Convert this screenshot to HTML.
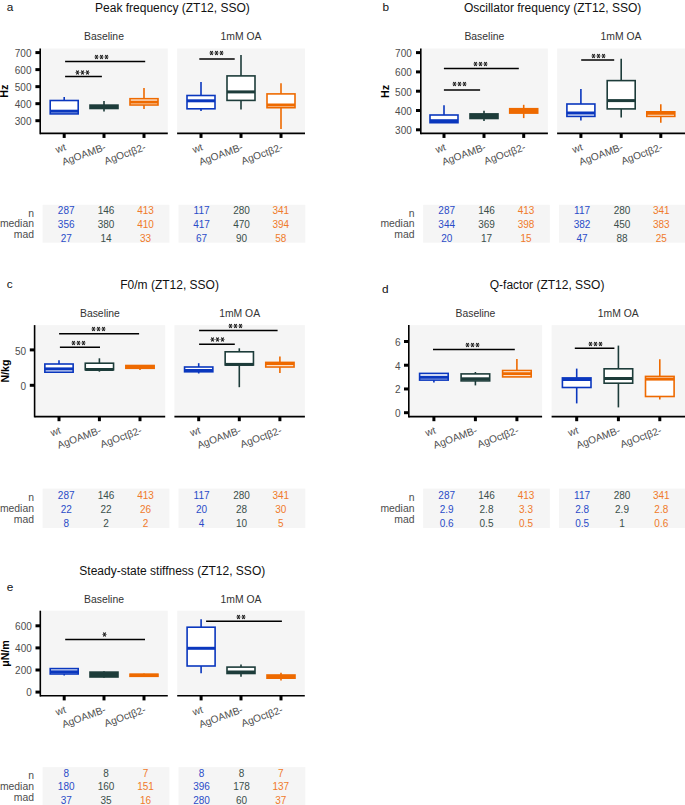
<!DOCTYPE html>
<html><head><meta charset="utf-8"><style>
html,body{margin:0;padding:0;background:#fff;}
body{width:685px;height:805px;overflow:hidden;font-family:"Liberation Sans",sans-serif;}
svg{display:block;}
</style></head><body>
<svg width="685" height="805" viewBox="0 0 685 805">
<rect width="685" height="805" fill="#fff"/>
<text x="6.8" y="10.6" font-size="11.8" fill="#111" font-family="Liberation Sans, sans-serif">a</text>
<text x="172.4" y="12.0" font-size="12" text-anchor="middle" fill="#111" font-family="Liberation Sans, sans-serif">Peak frequency (ZT12, SSO)</text>
<rect x="40.2" y="48.5" width="127.60000000000001" height="84.85" fill="#f5f5f5"/>
<text x="104.00" y="40.0" font-size="10.4" text-anchor="middle" fill="#333" font-family="Liberation Sans, sans-serif">Baseline</text>
<line x1="40.2" y1="133.35" x2="167.8" y2="133.35" stroke="#000" stroke-width="1.55"/>
<line x1="64.2" y1="133.35" x2="64.2" y2="137.95" stroke="#000" stroke-width="3.0"/>
<text x="66.70" y="149.85" font-size="10.2" text-anchor="end" fill="#4d4d4d" transform="rotate(-20 66.70 149.85)" font-family="Liberation Sans, sans-serif">wt</text>
<line x1="104" y1="133.35" x2="104" y2="137.95" stroke="#000" stroke-width="3.0"/>
<text x="106.50" y="149.85" font-size="10.2" text-anchor="end" fill="#4d4d4d" transform="rotate(-20 106.50 149.85)" font-family="Liberation Sans, sans-serif">AgOAMB-</text>
<line x1="144" y1="133.35" x2="144" y2="137.95" stroke="#000" stroke-width="3.0"/>
<text x="146.50" y="149.85" font-size="10.2" text-anchor="end" fill="#4d4d4d" transform="rotate(-20 146.50 149.85)" font-family="Liberation Sans, sans-serif">AgOctβ2-</text>
<line x1="64.2" y1="97" x2="64.2" y2="100.5" stroke="#0a37be" stroke-width="1.6"/>
<rect x="50.2" y="100.5" width="28.0" height="13.40" fill="#fff" stroke="#0a37be" stroke-width="1.6"/>
<line x1="50.2" y1="111.2" x2="78.2" y2="111.2" stroke="#0a37be" stroke-width="3.0"/>
<line x1="104" y1="101" x2="104" y2="105.1" stroke="#1d3c3a" stroke-width="1.6"/>
<line x1="104" y1="108.5" x2="104" y2="111.6" stroke="#1d3c3a" stroke-width="1.6"/>
<rect x="90.0" y="105.1" width="28.0" height="3.40" fill="#1d3c3a" stroke="#1d3c3a" stroke-width="1.6"/>
<line x1="90.0" y1="107" x2="118.0" y2="107" stroke="#1d3c3a" stroke-width="3.0"/>
<line x1="144" y1="88.1" x2="144" y2="98.7" stroke="#ee6a00" stroke-width="1.6"/>
<line x1="144" y1="105" x2="144" y2="109" stroke="#ee6a00" stroke-width="1.6"/>
<rect x="130.0" y="98.7" width="28.0" height="6.30" fill="#fff" stroke="#ee6a00" stroke-width="1.6"/>
<line x1="130.0" y1="102.1" x2="158.0" y2="102.1" stroke="#ee6a00" stroke-width="3.0"/>
<line x1="65.1" y1="61.4" x2="145.2" y2="61.4" stroke="#000" stroke-width="1.5"/>
<path d="M94.20,57.00L98.80,57.00M99.20,57.00L103.80,57.00M104.20,57.00L108.80,57.00" stroke="#666" stroke-width="0.8" fill="none"/>
<path d="M95.35,55.01L97.65,58.99M97.65,55.01L95.35,58.99M100.35,55.01L102.65,58.99M102.65,55.01L100.35,58.99M105.35,55.01L107.65,58.99M107.65,55.01L105.35,58.99" stroke="#222" stroke-width="1.2" fill="none"/>
<line x1="65.1" y1="76.6" x2="101.9" y2="76.6" stroke="#000" stroke-width="1.5"/>
<path d="M75.20,72.50L79.80,72.50M80.20,72.50L84.80,72.50M85.20,72.50L89.80,72.50" stroke="#666" stroke-width="0.8" fill="none"/>
<path d="M76.35,70.51L78.65,74.49M78.65,70.51L76.35,74.49M81.35,70.51L83.65,74.49M83.65,70.51L81.35,74.49M86.35,70.51L88.65,74.49M88.65,70.51L86.35,74.49" stroke="#222" stroke-width="1.2" fill="none"/>
<rect x="177.1" y="48.5" width="127.9" height="84.85" fill="#f5f5f5"/>
<text x="241.05" y="40.0" font-size="10.4" text-anchor="middle" fill="#333" font-family="Liberation Sans, sans-serif">1mM OA</text>
<line x1="177.1" y1="133.35" x2="305" y2="133.35" stroke="#000" stroke-width="1.55"/>
<line x1="201" y1="133.35" x2="201" y2="137.95" stroke="#000" stroke-width="3.0"/>
<text x="203.50" y="149.85" font-size="10.2" text-anchor="end" fill="#4d4d4d" transform="rotate(-20 203.50 149.85)" font-family="Liberation Sans, sans-serif">wt</text>
<line x1="241" y1="133.35" x2="241" y2="137.95" stroke="#000" stroke-width="3.0"/>
<text x="243.50" y="149.85" font-size="10.2" text-anchor="end" fill="#4d4d4d" transform="rotate(-20 243.50 149.85)" font-family="Liberation Sans, sans-serif">AgOAMB-</text>
<line x1="281" y1="133.35" x2="281" y2="137.95" stroke="#000" stroke-width="3.0"/>
<text x="283.50" y="149.85" font-size="10.2" text-anchor="end" fill="#4d4d4d" transform="rotate(-20 283.50 149.85)" font-family="Liberation Sans, sans-serif">AgOctβ2-</text>
<line x1="201" y1="82.1" x2="201" y2="95.5" stroke="#0a37be" stroke-width="1.6"/>
<line x1="201" y1="108.8" x2="201" y2="111.1" stroke="#0a37be" stroke-width="1.6"/>
<rect x="187.0" y="95.5" width="28.0" height="13.30" fill="#fff" stroke="#0a37be" stroke-width="1.6"/>
<line x1="187.0" y1="100.8" x2="215.0" y2="100.8" stroke="#0a37be" stroke-width="3.0"/>
<line x1="241" y1="55" x2="241" y2="75.9" stroke="#1d3c3a" stroke-width="1.6"/>
<line x1="241" y1="100.4" x2="241" y2="109.6" stroke="#1d3c3a" stroke-width="1.6"/>
<rect x="227.0" y="75.9" width="28.0" height="24.50" fill="#fff" stroke="#1d3c3a" stroke-width="1.6"/>
<line x1="227.0" y1="91.9" x2="255.0" y2="91.9" stroke="#1d3c3a" stroke-width="3.0"/>
<line x1="281" y1="83.3" x2="281" y2="93.9" stroke="#ee6a00" stroke-width="1.6"/>
<line x1="281" y1="107.7" x2="281" y2="129" stroke="#ee6a00" stroke-width="1.6"/>
<rect x="267.0" y="93.9" width="28.0" height="13.80" fill="#fff" stroke="#ee6a00" stroke-width="1.6"/>
<line x1="267.0" y1="105.0" x2="295.0" y2="105.0" stroke="#ee6a00" stroke-width="3.0"/>
<line x1="199.3" y1="58.9" x2="234.7" y2="58.9" stroke="#000" stroke-width="1.5"/>
<path d="M209.20,53.00L213.80,53.00M214.20,53.00L218.80,53.00M219.20,53.00L223.80,53.00" stroke="#666" stroke-width="0.8" fill="none"/>
<path d="M210.35,51.01L212.65,54.99M212.65,51.01L210.35,54.99M215.35,51.01L217.65,54.99M217.65,51.01L215.35,54.99M220.35,51.01L222.65,54.99M222.65,51.01L220.35,54.99" stroke="#222" stroke-width="1.2" fill="none"/>
<line x1="40.2" y1="48.5" x2="40.2" y2="134.13" stroke="#000" stroke-width="1.6"/>
<line x1="35.400000000000006" y1="52.580000000000005" x2="40.2" y2="52.580000000000005" stroke="#000" stroke-width="3.0"/>
<text x="31.5" y="56.88" font-size="10" text-anchor="end" fill="#4d4d4d" font-family="Liberation Sans, sans-serif">700</text>
<line x1="35.400000000000006" y1="69.61" x2="40.2" y2="69.61" stroke="#000" stroke-width="3.0"/>
<text x="31.5" y="73.91" font-size="10" text-anchor="end" fill="#4d4d4d" font-family="Liberation Sans, sans-serif">600</text>
<line x1="35.400000000000006" y1="86.64" x2="40.2" y2="86.64" stroke="#000" stroke-width="3.0"/>
<text x="31.5" y="90.94" font-size="10" text-anchor="end" fill="#4d4d4d" font-family="Liberation Sans, sans-serif">500</text>
<line x1="35.400000000000006" y1="103.67" x2="40.2" y2="103.67" stroke="#000" stroke-width="3.0"/>
<text x="31.5" y="107.97" font-size="10" text-anchor="end" fill="#4d4d4d" font-family="Liberation Sans, sans-serif">400</text>
<line x1="35.400000000000006" y1="120.7" x2="40.2" y2="120.7" stroke="#000" stroke-width="3.0"/>
<text x="31.5" y="125.00" font-size="10" text-anchor="end" fill="#4d4d4d" font-family="Liberation Sans, sans-serif">300</text>
<text x="8.1" y="91.2" font-size="10.7" font-weight="bold" text-anchor="middle" fill="#000" transform="rotate(-90 8.1 91.2)" font-family="Liberation Sans, sans-serif">Hz</text>
<rect x="42.6" y="204.8" width="126.80000000000001" height="37.89999999999998" fill="#f5f5f5"/>
<text x="66.2" y="213.90" font-size="10" text-anchor="middle" fill="#2a4cc8" font-family="Liberation Sans, sans-serif">287</text>
<text x="106" y="213.90" font-size="10" text-anchor="middle" fill="#3a4f4b" font-family="Liberation Sans, sans-serif">146</text>
<text x="145.5" y="213.90" font-size="10" text-anchor="middle" fill="#f07a2a" font-family="Liberation Sans, sans-serif">413</text>
<text x="66.2" y="227.70" font-size="10" text-anchor="middle" fill="#2a4cc8" font-family="Liberation Sans, sans-serif">356</text>
<text x="106" y="227.70" font-size="10" text-anchor="middle" fill="#3a4f4b" font-family="Liberation Sans, sans-serif">380</text>
<text x="145.5" y="227.70" font-size="10" text-anchor="middle" fill="#f07a2a" font-family="Liberation Sans, sans-serif">410</text>
<text x="66.2" y="241.70" font-size="10" text-anchor="middle" fill="#2a4cc8" font-family="Liberation Sans, sans-serif">27</text>
<text x="106" y="241.70" font-size="10" text-anchor="middle" fill="#3a4f4b" font-family="Liberation Sans, sans-serif">14</text>
<text x="145.5" y="241.70" font-size="10" text-anchor="middle" fill="#f07a2a" font-family="Liberation Sans, sans-serif">33</text>
<rect x="178.5" y="204.8" width="126.80000000000001" height="37.89999999999998" fill="#f5f5f5"/>
<text x="201.6" y="213.90" font-size="10" text-anchor="middle" fill="#2a4cc8" font-family="Liberation Sans, sans-serif">117</text>
<text x="241.5" y="213.90" font-size="10" text-anchor="middle" fill="#3a4f4b" font-family="Liberation Sans, sans-serif">280</text>
<text x="280.8" y="213.90" font-size="10" text-anchor="middle" fill="#f07a2a" font-family="Liberation Sans, sans-serif">341</text>
<text x="201.6" y="227.70" font-size="10" text-anchor="middle" fill="#2a4cc8" font-family="Liberation Sans, sans-serif">417</text>
<text x="241.5" y="227.70" font-size="10" text-anchor="middle" fill="#3a4f4b" font-family="Liberation Sans, sans-serif">470</text>
<text x="280.8" y="227.70" font-size="10" text-anchor="middle" fill="#f07a2a" font-family="Liberation Sans, sans-serif">394</text>
<text x="201.6" y="241.70" font-size="10" text-anchor="middle" fill="#2a4cc8" font-family="Liberation Sans, sans-serif">67</text>
<text x="241.5" y="241.70" font-size="10" text-anchor="middle" fill="#3a4f4b" font-family="Liberation Sans, sans-serif">90</text>
<text x="280.8" y="241.70" font-size="10" text-anchor="middle" fill="#f07a2a" font-family="Liberation Sans, sans-serif">58</text>
<text x="34" y="216.5" font-size="10.4" text-anchor="end" fill="#4d4d4d" font-family="Liberation Sans, sans-serif">n</text>
<text x="34" y="227.4" font-size="10.4" text-anchor="end" fill="#4d4d4d" font-family="Liberation Sans, sans-serif">median</text>
<text x="34" y="238.3" font-size="10.4" text-anchor="end" fill="#4d4d4d" font-family="Liberation Sans, sans-serif">mad</text>
<text x="382.5" y="10.5" font-size="11.8" fill="#111" font-family="Liberation Sans, sans-serif">b</text>
<text x="552.6" y="12.0" font-size="12" text-anchor="middle" fill="#111" font-family="Liberation Sans, sans-serif">Oscillator frequency (ZT12, SSO)</text>
<rect x="420.8" y="48.5" width="127.09999999999997" height="84.85" fill="#f5f5f5"/>
<text x="484.35" y="40.0" font-size="10.4" text-anchor="middle" fill="#333" font-family="Liberation Sans, sans-serif">Baseline</text>
<line x1="420.8" y1="133.35" x2="547.9" y2="133.35" stroke="#000" stroke-width="1.55"/>
<line x1="444" y1="133.35" x2="444" y2="137.95" stroke="#000" stroke-width="3.0"/>
<text x="446.50" y="149.85" font-size="10.2" text-anchor="end" fill="#4d4d4d" transform="rotate(-20 446.50 149.85)" font-family="Liberation Sans, sans-serif">wt</text>
<line x1="484" y1="133.35" x2="484" y2="137.95" stroke="#000" stroke-width="3.0"/>
<text x="486.50" y="149.85" font-size="10.2" text-anchor="end" fill="#4d4d4d" transform="rotate(-20 486.50 149.85)" font-family="Liberation Sans, sans-serif">AgOAMB-</text>
<line x1="523.7" y1="133.35" x2="523.7" y2="137.95" stroke="#000" stroke-width="3.0"/>
<text x="526.20" y="149.85" font-size="10.2" text-anchor="end" fill="#4d4d4d" transform="rotate(-20 526.20 149.85)" font-family="Liberation Sans, sans-serif">AgOctβ2-</text>
<line x1="444" y1="105.2" x2="444" y2="115" stroke="#0a37be" stroke-width="1.6"/>
<rect x="430.0" y="115" width="28.0" height="7.70" fill="#fff" stroke="#0a37be" stroke-width="1.6"/>
<line x1="430.0" y1="120.7" x2="458.0" y2="120.7" stroke="#0a37be" stroke-width="3.0"/>
<line x1="484" y1="110.7" x2="484" y2="113.9" stroke="#1d3c3a" stroke-width="1.6"/>
<line x1="484" y1="118.5" x2="484" y2="121" stroke="#1d3c3a" stroke-width="1.6"/>
<rect x="470.0" y="113.9" width="28.0" height="4.60" fill="#1d3c3a" stroke="#1d3c3a" stroke-width="1.6"/>
<line x1="470.0" y1="116.5" x2="498.0" y2="116.5" stroke="#1d3c3a" stroke-width="3.0"/>
<line x1="523.7" y1="104.8" x2="523.7" y2="108.7" stroke="#ee6a00" stroke-width="1.6"/>
<line x1="523.7" y1="113.1" x2="523.7" y2="118.1" stroke="#ee6a00" stroke-width="1.6"/>
<rect x="509.70000000000005" y="108.7" width="28.0" height="4.40" fill="#ee6a00" stroke="#ee6a00" stroke-width="1.6"/>
<line x1="509.70000000000005" y1="111" x2="537.7" y2="111" stroke="#ee6a00" stroke-width="3.0"/>
<line x1="443.9" y1="68.4" x2="518.8" y2="68.4" stroke="#000" stroke-width="1.5"/>
<path d="M473.20,64.00L477.80,64.00M478.20,64.00L482.80,64.00M483.20,64.00L487.80,64.00" stroke="#666" stroke-width="0.8" fill="none"/>
<path d="M474.35,62.01L476.65,65.99M476.65,62.01L474.35,65.99M479.35,62.01L481.65,65.99M481.65,62.01L479.35,65.99M484.35,62.01L486.65,65.99M486.65,62.01L484.35,65.99" stroke="#222" stroke-width="1.2" fill="none"/>
<line x1="443.9" y1="90.1" x2="480.1" y2="90.1" stroke="#000" stroke-width="1.5"/>
<path d="M452.20,84.00L456.80,84.00M457.20,84.00L461.80,84.00M462.20,84.00L466.80,84.00" stroke="#666" stroke-width="0.8" fill="none"/>
<path d="M453.35,82.01L455.65,85.99M455.65,82.01L453.35,85.99M458.35,82.01L460.65,85.99M460.65,82.01L458.35,85.99M463.35,82.01L465.65,85.99M465.65,82.01L463.35,85.99" stroke="#222" stroke-width="1.2" fill="none"/>
<rect x="557.1" y="48.5" width="127.89999999999998" height="84.85" fill="#f5f5f5"/>
<text x="621.05" y="40.0" font-size="10.4" text-anchor="middle" fill="#333" font-family="Liberation Sans, sans-serif">1mM OA</text>
<line x1="557.1" y1="133.35" x2="685" y2="133.35" stroke="#000" stroke-width="1.55"/>
<line x1="580.9" y1="133.35" x2="580.9" y2="137.95" stroke="#000" stroke-width="3.0"/>
<text x="583.40" y="149.85" font-size="10.2" text-anchor="end" fill="#4d4d4d" transform="rotate(-20 583.40 149.85)" font-family="Liberation Sans, sans-serif">wt</text>
<line x1="621.2" y1="133.35" x2="621.2" y2="137.95" stroke="#000" stroke-width="3.0"/>
<text x="623.70" y="149.85" font-size="10.2" text-anchor="end" fill="#4d4d4d" transform="rotate(-20 623.70 149.85)" font-family="Liberation Sans, sans-serif">AgOAMB-</text>
<line x1="660.8" y1="133.35" x2="660.8" y2="137.95" stroke="#000" stroke-width="3.0"/>
<text x="663.30" y="149.85" font-size="10.2" text-anchor="end" fill="#4d4d4d" transform="rotate(-20 663.30 149.85)" font-family="Liberation Sans, sans-serif">AgOctβ2-</text>
<line x1="580.9" y1="89" x2="580.9" y2="104.0" stroke="#0a37be" stroke-width="1.6"/>
<line x1="580.9" y1="116.4" x2="580.9" y2="120.4" stroke="#0a37be" stroke-width="1.6"/>
<rect x="566.9" y="104.0" width="28.0" height="12.40" fill="#fff" stroke="#0a37be" stroke-width="1.6"/>
<line x1="566.9" y1="113.0" x2="594.9" y2="113.0" stroke="#0a37be" stroke-width="3.0"/>
<line x1="621.2" y1="58.7" x2="621.2" y2="80.6" stroke="#1d3c3a" stroke-width="1.6"/>
<line x1="621.2" y1="108.9" x2="621.2" y2="117.6" stroke="#1d3c3a" stroke-width="1.6"/>
<rect x="607.2" y="80.6" width="28.0" height="28.30" fill="#fff" stroke="#1d3c3a" stroke-width="1.6"/>
<line x1="607.2" y1="100.6" x2="635.2" y2="100.6" stroke="#1d3c3a" stroke-width="3.0"/>
<line x1="660.8" y1="104.2" x2="660.8" y2="111.8" stroke="#ee6a00" stroke-width="1.6"/>
<line x1="660.8" y1="116.4" x2="660.8" y2="122.7" stroke="#ee6a00" stroke-width="1.6"/>
<rect x="646.8" y="111.8" width="28.0" height="4.60" fill="#fff" stroke="#ee6a00" stroke-width="1.6"/>
<line x1="646.8" y1="113.3" x2="674.8" y2="113.3" stroke="#ee6a00" stroke-width="3.0"/>
<line x1="581.2" y1="60.1" x2="614.2" y2="60.1" stroke="#000" stroke-width="1.5"/>
<path d="M591.20,56.00L595.80,56.00M596.20,56.00L600.80,56.00M601.20,56.00L605.80,56.00" stroke="#666" stroke-width="0.8" fill="none"/>
<path d="M592.35,54.01L594.65,57.99M594.65,54.01L592.35,57.99M597.35,54.01L599.65,57.99M599.65,54.01L597.35,57.99M602.35,54.01L604.65,57.99M604.65,54.01L602.35,57.99" stroke="#222" stroke-width="1.2" fill="none"/>
<line x1="420.8" y1="48.5" x2="420.8" y2="134.13" stroke="#000" stroke-width="1.6"/>
<line x1="416.0" y1="52.6" x2="420.8" y2="52.6" stroke="#000" stroke-width="3.0"/>
<text x="411.8" y="56.90" font-size="10" text-anchor="end" fill="#4d4d4d" font-family="Liberation Sans, sans-serif">700</text>
<line x1="416.0" y1="71.9" x2="420.8" y2="71.9" stroke="#000" stroke-width="3.0"/>
<text x="411.8" y="76.20" font-size="10" text-anchor="end" fill="#4d4d4d" font-family="Liberation Sans, sans-serif">600</text>
<line x1="416.0" y1="91.2" x2="420.8" y2="91.2" stroke="#000" stroke-width="3.0"/>
<text x="411.8" y="95.50" font-size="10" text-anchor="end" fill="#4d4d4d" font-family="Liberation Sans, sans-serif">500</text>
<line x1="416.0" y1="110.5" x2="420.8" y2="110.5" stroke="#000" stroke-width="3.0"/>
<text x="411.8" y="114.80" font-size="10" text-anchor="end" fill="#4d4d4d" font-family="Liberation Sans, sans-serif">400</text>
<line x1="416.0" y1="129.79999999999998" x2="420.8" y2="129.79999999999998" stroke="#000" stroke-width="3.0"/>
<text x="411.8" y="134.10" font-size="10" text-anchor="end" fill="#4d4d4d" font-family="Liberation Sans, sans-serif">300</text>
<text x="388.6" y="91.4" font-size="10.7" font-weight="bold" text-anchor="middle" fill="#000" transform="rotate(-90 388.6 91.4)" font-family="Liberation Sans, sans-serif">Hz</text>
<rect x="423.1" y="204.8" width="126.79999999999995" height="37.89999999999998" fill="#f5f5f5"/>
<text x="446.7" y="213.90" font-size="10" text-anchor="middle" fill="#2a4cc8" font-family="Liberation Sans, sans-serif">287</text>
<text x="486.5" y="213.90" font-size="10" text-anchor="middle" fill="#3a4f4b" font-family="Liberation Sans, sans-serif">146</text>
<text x="526.0" y="213.90" font-size="10" text-anchor="middle" fill="#f07a2a" font-family="Liberation Sans, sans-serif">413</text>
<text x="446.7" y="227.70" font-size="10" text-anchor="middle" fill="#2a4cc8" font-family="Liberation Sans, sans-serif">344</text>
<text x="486.5" y="227.70" font-size="10" text-anchor="middle" fill="#3a4f4b" font-family="Liberation Sans, sans-serif">369</text>
<text x="526.0" y="227.70" font-size="10" text-anchor="middle" fill="#f07a2a" font-family="Liberation Sans, sans-serif">398</text>
<text x="446.7" y="241.70" font-size="10" text-anchor="middle" fill="#2a4cc8" font-family="Liberation Sans, sans-serif">20</text>
<text x="486.5" y="241.70" font-size="10" text-anchor="middle" fill="#3a4f4b" font-family="Liberation Sans, sans-serif">17</text>
<text x="526.0" y="241.70" font-size="10" text-anchor="middle" fill="#f07a2a" font-family="Liberation Sans, sans-serif">15</text>
<rect x="559.0" y="204.8" width="126.79999999999995" height="37.89999999999998" fill="#f5f5f5"/>
<text x="582.1" y="213.90" font-size="10" text-anchor="middle" fill="#2a4cc8" font-family="Liberation Sans, sans-serif">117</text>
<text x="622.0" y="213.90" font-size="10" text-anchor="middle" fill="#3a4f4b" font-family="Liberation Sans, sans-serif">280</text>
<text x="661.3" y="213.90" font-size="10" text-anchor="middle" fill="#f07a2a" font-family="Liberation Sans, sans-serif">341</text>
<text x="582.1" y="227.70" font-size="10" text-anchor="middle" fill="#2a4cc8" font-family="Liberation Sans, sans-serif">382</text>
<text x="622.0" y="227.70" font-size="10" text-anchor="middle" fill="#3a4f4b" font-family="Liberation Sans, sans-serif">450</text>
<text x="661.3" y="227.70" font-size="10" text-anchor="middle" fill="#f07a2a" font-family="Liberation Sans, sans-serif">383</text>
<text x="582.1" y="241.70" font-size="10" text-anchor="middle" fill="#2a4cc8" font-family="Liberation Sans, sans-serif">47</text>
<text x="622.0" y="241.70" font-size="10" text-anchor="middle" fill="#3a4f4b" font-family="Liberation Sans, sans-serif">88</text>
<text x="661.3" y="241.70" font-size="10" text-anchor="middle" fill="#f07a2a" font-family="Liberation Sans, sans-serif">25</text>
<text x="414.5" y="216.5" font-size="10.4" text-anchor="end" fill="#4d4d4d" font-family="Liberation Sans, sans-serif">n</text>
<text x="414.5" y="227.4" font-size="10.4" text-anchor="end" fill="#4d4d4d" font-family="Liberation Sans, sans-serif">median</text>
<text x="414.5" y="238.3" font-size="10.4" text-anchor="end" fill="#4d4d4d" font-family="Liberation Sans, sans-serif">mad</text>
<text x="6.8" y="288.3" font-size="11.8" fill="#111" font-family="Liberation Sans, sans-serif">c</text>
<text x="169.6" y="288.6" font-size="12" text-anchor="middle" fill="#111" font-family="Liberation Sans, sans-serif">F0/m (ZT12, SSO)</text>
<rect x="34.6" y="325.1" width="130.6" height="91.5" fill="#f5f5f5"/>
<text x="99.90" y="316.8" font-size="10.4" text-anchor="middle" fill="#333" font-family="Liberation Sans, sans-serif">Baseline</text>
<line x1="34.6" y1="416.6" x2="165.2" y2="416.6" stroke="#000" stroke-width="1.55"/>
<line x1="59" y1="416.6" x2="59" y2="421.20000000000005" stroke="#000" stroke-width="3.0"/>
<text x="61.50" y="433.10" font-size="10.2" text-anchor="end" fill="#4d4d4d" transform="rotate(-20 61.50 433.10)" font-family="Liberation Sans, sans-serif">wt</text>
<line x1="99.4" y1="416.6" x2="99.4" y2="421.20000000000005" stroke="#000" stroke-width="3.0"/>
<text x="101.90" y="433.10" font-size="10.2" text-anchor="end" fill="#4d4d4d" transform="rotate(-20 101.90 433.10)" font-family="Liberation Sans, sans-serif">AgOAMB-</text>
<line x1="140" y1="416.6" x2="140" y2="421.20000000000005" stroke="#000" stroke-width="3.0"/>
<text x="142.50" y="433.10" font-size="10.2" text-anchor="end" fill="#4d4d4d" transform="rotate(-20 142.50 433.10)" font-family="Liberation Sans, sans-serif">AgOctβ2-</text>
<line x1="59" y1="360.2" x2="59" y2="364" stroke="#0a37be" stroke-width="1.6"/>
<rect x="44.85" y="364" width="28.3" height="8.20" fill="#fff" stroke="#0a37be" stroke-width="1.6"/>
<line x1="44.85" y1="368.9" x2="73.15" y2="368.9" stroke="#0a37be" stroke-width="3.0"/>
<line x1="99.4" y1="358.3" x2="99.4" y2="363.2" stroke="#1d3c3a" stroke-width="1.6"/>
<line x1="99.4" y1="369.8" x2="99.4" y2="371.7" stroke="#1d3c3a" stroke-width="1.6"/>
<rect x="85.25" y="363.2" width="28.3" height="6.60" fill="#fff" stroke="#1d3c3a" stroke-width="1.6"/>
<line x1="85.25" y1="369.5" x2="113.55000000000001" y2="369.5" stroke="#1d3c3a" stroke-width="3.0"/>
<line x1="140" y1="365" x2="140" y2="365.5" stroke="#ee6a00" stroke-width="1.6"/>
<line x1="140" y1="368.3" x2="140" y2="370" stroke="#ee6a00" stroke-width="1.6"/>
<rect x="125.85" y="365.5" width="28.3" height="2.80" fill="#ee6a00" stroke="#ee6a00" stroke-width="1.6"/>
<line x1="125.85" y1="367.3" x2="154.15" y2="367.3" stroke="#ee6a00" stroke-width="3.0"/>
<line x1="59.1" y1="333.7" x2="139.1" y2="333.7" stroke="#000" stroke-width="1.5"/>
<path d="M91.20,329.00L95.80,329.00M96.20,329.00L100.80,329.00M101.20,329.00L105.80,329.00" stroke="#666" stroke-width="0.8" fill="none"/>
<path d="M92.35,327.01L94.65,330.99M94.65,327.01L92.35,330.99M97.35,327.01L99.65,330.99M99.65,327.01L97.35,330.99M102.35,327.01L104.65,330.99M104.65,327.01L102.35,330.99" stroke="#222" stroke-width="1.2" fill="none"/>
<line x1="59.9" y1="347.2" x2="100" y2="347.2" stroke="#000" stroke-width="1.5"/>
<path d="M71.20,343.00L75.80,343.00M76.20,343.00L80.80,343.00M81.20,343.00L85.80,343.00" stroke="#666" stroke-width="0.8" fill="none"/>
<path d="M72.35,341.01L74.65,344.99M74.65,341.01L72.35,344.99M77.35,341.01L79.65,344.99M79.65,341.01L77.35,344.99M82.35,341.01L84.65,344.99M84.65,341.01L82.35,344.99" stroke="#222" stroke-width="1.2" fill="none"/>
<rect x="174.4" y="325.1" width="130.49999999999997" height="91.5" fill="#f5f5f5"/>
<text x="239.65" y="316.8" font-size="10.4" text-anchor="middle" fill="#333" font-family="Liberation Sans, sans-serif">1mM OA</text>
<line x1="174.4" y1="416.6" x2="304.9" y2="416.6" stroke="#000" stroke-width="1.55"/>
<line x1="198.7" y1="416.6" x2="198.7" y2="421.20000000000005" stroke="#000" stroke-width="3.0"/>
<text x="201.20" y="433.10" font-size="10.2" text-anchor="end" fill="#4d4d4d" transform="rotate(-20 201.20 433.10)" font-family="Liberation Sans, sans-serif">wt</text>
<line x1="239.3" y1="416.6" x2="239.3" y2="421.20000000000005" stroke="#000" stroke-width="3.0"/>
<text x="241.80" y="433.10" font-size="10.2" text-anchor="end" fill="#4d4d4d" transform="rotate(-20 241.80 433.10)" font-family="Liberation Sans, sans-serif">AgOAMB-</text>
<line x1="279.9" y1="416.6" x2="279.9" y2="421.20000000000005" stroke="#000" stroke-width="3.0"/>
<text x="282.40" y="433.10" font-size="10.2" text-anchor="end" fill="#4d4d4d" transform="rotate(-20 282.40 433.10)" font-family="Liberation Sans, sans-serif">AgOctβ2-</text>
<line x1="198.7" y1="363.2" x2="198.7" y2="367" stroke="#0a37be" stroke-width="1.6"/>
<line x1="198.7" y1="371.8" x2="198.7" y2="373.5" stroke="#0a37be" stroke-width="1.6"/>
<rect x="184.54999999999998" y="367" width="28.3" height="4.80" fill="#fff" stroke="#0a37be" stroke-width="1.6"/>
<line x1="184.54999999999998" y1="370.5" x2="212.85" y2="370.5" stroke="#0a37be" stroke-width="3.0"/>
<line x1="239.3" y1="348.3" x2="239.3" y2="351.8" stroke="#1d3c3a" stroke-width="1.6"/>
<line x1="239.3" y1="365" x2="239.3" y2="387.2" stroke="#1d3c3a" stroke-width="1.6"/>
<rect x="225.15" y="351.8" width="28.3" height="13.20" fill="#fff" stroke="#1d3c3a" stroke-width="1.6"/>
<line x1="225.15" y1="364.4" x2="253.45000000000002" y2="364.4" stroke="#1d3c3a" stroke-width="3.0"/>
<line x1="279.9" y1="356.6" x2="279.9" y2="362.4" stroke="#ee6a00" stroke-width="1.6"/>
<line x1="279.9" y1="367" x2="279.9" y2="373" stroke="#ee6a00" stroke-width="1.6"/>
<rect x="265.75" y="362.4" width="28.3" height="4.60" fill="#fff" stroke="#ee6a00" stroke-width="1.6"/>
<line x1="265.75" y1="363.7" x2="294.04999999999995" y2="363.7" stroke="#ee6a00" stroke-width="3.0"/>
<line x1="199.1" y1="330.4" x2="277.6" y2="330.4" stroke="#000" stroke-width="1.5"/>
<path d="M228.20,326.00L232.80,326.00M233.20,326.00L237.80,326.00M238.20,326.00L242.80,326.00" stroke="#666" stroke-width="0.8" fill="none"/>
<path d="M229.35,324.01L231.65,327.99M231.65,324.01L229.35,327.99M234.35,324.01L236.65,327.99M236.65,324.01L234.35,327.99M239.35,324.01L241.65,327.99M241.65,324.01L239.35,327.99" stroke="#222" stroke-width="1.2" fill="none"/>
<line x1="199.1" y1="344.2" x2="234.8" y2="344.2" stroke="#000" stroke-width="1.5"/>
<path d="M210.20,339.50L214.80,339.50M215.20,339.50L219.80,339.50M220.20,339.50L224.80,339.50" stroke="#666" stroke-width="0.8" fill="none"/>
<path d="M211.35,337.51L213.65,341.49M213.65,337.51L211.35,341.49M216.35,337.51L218.65,341.49M218.65,337.51L216.35,341.49M221.35,337.51L223.65,341.49M223.65,337.51L221.35,341.49" stroke="#222" stroke-width="1.2" fill="none"/>
<line x1="34.6" y1="325.1" x2="34.6" y2="417.38" stroke="#000" stroke-width="1.6"/>
<line x1="29.8" y1="349.9" x2="34.6" y2="349.9" stroke="#000" stroke-width="3.0"/>
<text x="26" y="354.50" font-size="10" text-anchor="end" fill="#4d4d4d" font-family="Liberation Sans, sans-serif">50</text>
<line x1="29.8" y1="385.3" x2="34.6" y2="385.3" stroke="#000" stroke-width="3.0"/>
<text x="26" y="389.90" font-size="10" text-anchor="end" fill="#4d4d4d" font-family="Liberation Sans, sans-serif">0</text>
<text x="9" y="371" font-size="10.7" font-weight="bold" text-anchor="middle" fill="#000" transform="rotate(-90 9 371)" font-family="Liberation Sans, sans-serif">N/kg</text>
<rect x="42.6" y="488.6" width="126.80000000000001" height="39.39999999999998" fill="#f5f5f5"/>
<text x="66.2" y="498.90" font-size="10" text-anchor="middle" fill="#2a4cc8" font-family="Liberation Sans, sans-serif">287</text>
<text x="106" y="498.90" font-size="10" text-anchor="middle" fill="#3a4f4b" font-family="Liberation Sans, sans-serif">146</text>
<text x="145.5" y="498.90" font-size="10" text-anchor="middle" fill="#f07a2a" font-family="Liberation Sans, sans-serif">413</text>
<text x="66.2" y="512.90" font-size="10" text-anchor="middle" fill="#2a4cc8" font-family="Liberation Sans, sans-serif">22</text>
<text x="106" y="512.90" font-size="10" text-anchor="middle" fill="#3a4f4b" font-family="Liberation Sans, sans-serif">22</text>
<text x="145.5" y="512.90" font-size="10" text-anchor="middle" fill="#f07a2a" font-family="Liberation Sans, sans-serif">26</text>
<text x="66.2" y="526.50" font-size="10" text-anchor="middle" fill="#2a4cc8" font-family="Liberation Sans, sans-serif">8</text>
<text x="106" y="526.50" font-size="10" text-anchor="middle" fill="#3a4f4b" font-family="Liberation Sans, sans-serif">2</text>
<text x="145.5" y="526.50" font-size="10" text-anchor="middle" fill="#f07a2a" font-family="Liberation Sans, sans-serif">2</text>
<rect x="178.5" y="488.6" width="126.80000000000001" height="39.39999999999998" fill="#f5f5f5"/>
<text x="201.6" y="498.90" font-size="10" text-anchor="middle" fill="#2a4cc8" font-family="Liberation Sans, sans-serif">117</text>
<text x="241.5" y="498.90" font-size="10" text-anchor="middle" fill="#3a4f4b" font-family="Liberation Sans, sans-serif">280</text>
<text x="280.8" y="498.90" font-size="10" text-anchor="middle" fill="#f07a2a" font-family="Liberation Sans, sans-serif">341</text>
<text x="201.6" y="512.90" font-size="10" text-anchor="middle" fill="#2a4cc8" font-family="Liberation Sans, sans-serif">20</text>
<text x="241.5" y="512.90" font-size="10" text-anchor="middle" fill="#3a4f4b" font-family="Liberation Sans, sans-serif">28</text>
<text x="280.8" y="512.90" font-size="10" text-anchor="middle" fill="#f07a2a" font-family="Liberation Sans, sans-serif">30</text>
<text x="201.6" y="526.50" font-size="10" text-anchor="middle" fill="#2a4cc8" font-family="Liberation Sans, sans-serif">4</text>
<text x="241.5" y="526.50" font-size="10" text-anchor="middle" fill="#3a4f4b" font-family="Liberation Sans, sans-serif">10</text>
<text x="280.8" y="526.50" font-size="10" text-anchor="middle" fill="#f07a2a" font-family="Liberation Sans, sans-serif">5</text>
<text x="34" y="501" font-size="10.4" text-anchor="end" fill="#4d4d4d" font-family="Liberation Sans, sans-serif">n</text>
<text x="34" y="512.4" font-size="10.4" text-anchor="end" fill="#4d4d4d" font-family="Liberation Sans, sans-serif">median</text>
<text x="34" y="523.3" font-size="10.4" text-anchor="end" fill="#4d4d4d" font-family="Liberation Sans, sans-serif">mad</text>
<text x="382.0" y="293.0" font-size="11.8" fill="#111" font-family="Liberation Sans, sans-serif">d</text>
<text x="547.1" y="288.6" font-size="12" text-anchor="middle" fill="#111" font-family="Liberation Sans, sans-serif">Q-factor (ZT12, SSO)</text>
<rect x="408.8" y="325.1" width="133.3" height="91.5" fill="#f5f5f5"/>
<text x="475.45" y="316.8" font-size="10.4" text-anchor="middle" fill="#333" font-family="Liberation Sans, sans-serif">Baseline</text>
<line x1="408.8" y1="416.6" x2="542.1" y2="416.6" stroke="#000" stroke-width="1.55"/>
<line x1="433.9" y1="416.6" x2="433.9" y2="421.20000000000005" stroke="#000" stroke-width="3.0"/>
<text x="436.40" y="433.10" font-size="10.2" text-anchor="end" fill="#4d4d4d" transform="rotate(-20 436.40 433.10)" font-family="Liberation Sans, sans-serif">wt</text>
<line x1="475.4" y1="416.6" x2="475.4" y2="421.20000000000005" stroke="#000" stroke-width="3.0"/>
<text x="477.90" y="433.10" font-size="10.2" text-anchor="end" fill="#4d4d4d" transform="rotate(-20 477.90 433.10)" font-family="Liberation Sans, sans-serif">AgOAMB-</text>
<line x1="516.9" y1="416.6" x2="516.9" y2="421.20000000000005" stroke="#000" stroke-width="3.0"/>
<text x="519.40" y="433.10" font-size="10.2" text-anchor="end" fill="#4d4d4d" transform="rotate(-20 519.40 433.10)" font-family="Liberation Sans, sans-serif">AgOctβ2-</text>
<line x1="433.9" y1="380.1" x2="433.9" y2="382.6" stroke="#0a37be" stroke-width="1.6"/>
<rect x="419.59999999999997" y="373.4" width="28.6" height="6.70" fill="#fff" stroke="#0a37be" stroke-width="1.6"/>
<line x1="419.59999999999997" y1="377.3" x2="448.2" y2="377.3" stroke="#0a37be" stroke-width="3.0"/>
<line x1="475.4" y1="372" x2="475.4" y2="373.9" stroke="#1d3c3a" stroke-width="1.6"/>
<line x1="475.4" y1="380.9" x2="475.4" y2="385.4" stroke="#1d3c3a" stroke-width="1.6"/>
<rect x="461.09999999999997" y="373.9" width="28.6" height="7.00" fill="#fff" stroke="#1d3c3a" stroke-width="1.6"/>
<line x1="461.09999999999997" y1="378.8" x2="489.7" y2="378.8" stroke="#1d3c3a" stroke-width="3.0"/>
<line x1="516.9" y1="359.1" x2="516.9" y2="370.5" stroke="#ee6a00" stroke-width="1.6"/>
<rect x="502.59999999999997" y="370.5" width="28.6" height="6.40" fill="#fff" stroke="#ee6a00" stroke-width="1.6"/>
<line x1="502.59999999999997" y1="373.7" x2="531.1999999999999" y2="373.7" stroke="#ee6a00" stroke-width="3.0"/>
<line x1="433" y1="349.5" x2="514.8" y2="349.5" stroke="#000" stroke-width="1.5"/>
<path d="M465.20,345.00L469.80,345.00M470.20,345.00L474.80,345.00M475.20,345.00L479.80,345.00" stroke="#666" stroke-width="0.8" fill="none"/>
<path d="M466.35,343.01L468.65,346.99M468.65,343.01L466.35,346.99M471.35,343.01L473.65,346.99M473.65,343.01L471.35,346.99M476.35,343.01L478.65,346.99M478.65,343.01L476.35,346.99" stroke="#222" stroke-width="1.2" fill="none"/>
<rect x="551.6" y="325.1" width="133.39999999999998" height="91.5" fill="#f5f5f5"/>
<text x="618.30" y="316.8" font-size="10.4" text-anchor="middle" fill="#333" font-family="Liberation Sans, sans-serif">1mM OA</text>
<line x1="551.6" y1="416.6" x2="685" y2="416.6" stroke="#000" stroke-width="1.55"/>
<line x1="576.7" y1="416.6" x2="576.7" y2="421.20000000000005" stroke="#000" stroke-width="3.0"/>
<text x="579.20" y="433.10" font-size="10.2" text-anchor="end" fill="#4d4d4d" transform="rotate(-20 579.20 433.10)" font-family="Liberation Sans, sans-serif">wt</text>
<line x1="618.4" y1="416.6" x2="618.4" y2="421.20000000000005" stroke="#000" stroke-width="3.0"/>
<text x="620.90" y="433.10" font-size="10.2" text-anchor="end" fill="#4d4d4d" transform="rotate(-20 620.90 433.10)" font-family="Liberation Sans, sans-serif">AgOAMB-</text>
<line x1="659.8" y1="416.6" x2="659.8" y2="421.20000000000005" stroke="#000" stroke-width="3.0"/>
<text x="662.30" y="433.10" font-size="10.2" text-anchor="end" fill="#4d4d4d" transform="rotate(-20 662.30 433.10)" font-family="Liberation Sans, sans-serif">AgOctβ2-</text>
<line x1="576.7" y1="368.6" x2="576.7" y2="377.9" stroke="#0a37be" stroke-width="1.6"/>
<line x1="576.7" y1="387.5" x2="576.7" y2="403.4" stroke="#0a37be" stroke-width="1.6"/>
<rect x="562.4000000000001" y="377.9" width="28.6" height="9.60" fill="#fff" stroke="#0a37be" stroke-width="1.6"/>
<line x1="562.4000000000001" y1="379.5" x2="591.0" y2="379.5" stroke="#0a37be" stroke-width="3.0"/>
<line x1="618.4" y1="345.6" x2="618.4" y2="368.8" stroke="#1d3c3a" stroke-width="1.6"/>
<line x1="618.4" y1="383.2" x2="618.4" y2="407.4" stroke="#1d3c3a" stroke-width="1.6"/>
<rect x="604.1" y="368.8" width="28.6" height="14.40" fill="#fff" stroke="#1d3c3a" stroke-width="1.6"/>
<line x1="604.1" y1="378.5" x2="632.6999999999999" y2="378.5" stroke="#1d3c3a" stroke-width="3.0"/>
<line x1="659.8" y1="359.2" x2="659.8" y2="376.4" stroke="#ee6a00" stroke-width="1.6"/>
<line x1="659.8" y1="396.5" x2="659.8" y2="399.5" stroke="#ee6a00" stroke-width="1.6"/>
<rect x="645.5" y="376.4" width="28.6" height="20.10" fill="#fff" stroke="#ee6a00" stroke-width="1.6"/>
<line x1="645.5" y1="379.1" x2="674.0999999999999" y2="379.1" stroke="#ee6a00" stroke-width="3.0"/>
<line x1="574.8" y1="348.3" x2="614.4" y2="348.3" stroke="#000" stroke-width="1.5"/>
<path d="M588.20,344.00L592.80,344.00M593.20,344.00L597.80,344.00M598.20,344.00L602.80,344.00" stroke="#666" stroke-width="0.8" fill="none"/>
<path d="M589.35,342.01L591.65,345.99M591.65,342.01L589.35,345.99M594.35,342.01L596.65,345.99M596.65,342.01L594.35,345.99M599.35,342.01L601.65,345.99M601.65,342.01L599.35,345.99" stroke="#222" stroke-width="1.2" fill="none"/>
<line x1="408.8" y1="325.1" x2="408.8" y2="417.38" stroke="#000" stroke-width="1.6"/>
<line x1="404.0" y1="341.47999999999996" x2="408.8" y2="341.47999999999996" stroke="#000" stroke-width="3.0"/>
<text x="400.6" y="345.78" font-size="10" text-anchor="end" fill="#4d4d4d" font-family="Liberation Sans, sans-serif">6</text>
<line x1="404.0" y1="365.21999999999997" x2="408.8" y2="365.21999999999997" stroke="#000" stroke-width="3.0"/>
<text x="400.6" y="369.52" font-size="10" text-anchor="end" fill="#4d4d4d" font-family="Liberation Sans, sans-serif">4</text>
<line x1="404.0" y1="388.96" x2="408.8" y2="388.96" stroke="#000" stroke-width="3.0"/>
<text x="400.6" y="393.26" font-size="10" text-anchor="end" fill="#4d4d4d" font-family="Liberation Sans, sans-serif">2</text>
<line x1="404.0" y1="412.7" x2="408.8" y2="412.7" stroke="#000" stroke-width="3.0"/>
<text x="400.6" y="417.00" font-size="10" text-anchor="end" fill="#4d4d4d" font-family="Liberation Sans, sans-serif">0</text>
<rect x="423.1" y="488.6" width="126.79999999999995" height="39.39999999999998" fill="#f5f5f5"/>
<text x="446.7" y="498.90" font-size="10" text-anchor="middle" fill="#2a4cc8" font-family="Liberation Sans, sans-serif">287</text>
<text x="486.5" y="498.90" font-size="10" text-anchor="middle" fill="#3a4f4b" font-family="Liberation Sans, sans-serif">146</text>
<text x="526.0" y="498.90" font-size="10" text-anchor="middle" fill="#f07a2a" font-family="Liberation Sans, sans-serif">413</text>
<text x="446.7" y="512.90" font-size="10" text-anchor="middle" fill="#2a4cc8" font-family="Liberation Sans, sans-serif">2.9</text>
<text x="486.5" y="512.90" font-size="10" text-anchor="middle" fill="#3a4f4b" font-family="Liberation Sans, sans-serif">2.8</text>
<text x="526.0" y="512.90" font-size="10" text-anchor="middle" fill="#f07a2a" font-family="Liberation Sans, sans-serif">3.3</text>
<text x="446.7" y="526.50" font-size="10" text-anchor="middle" fill="#2a4cc8" font-family="Liberation Sans, sans-serif">0.6</text>
<text x="486.5" y="526.50" font-size="10" text-anchor="middle" fill="#3a4f4b" font-family="Liberation Sans, sans-serif">0.5</text>
<text x="526.0" y="526.50" font-size="10" text-anchor="middle" fill="#f07a2a" font-family="Liberation Sans, sans-serif">0.5</text>
<rect x="559.0" y="488.6" width="126.79999999999995" height="39.39999999999998" fill="#f5f5f5"/>
<text x="582.1" y="498.90" font-size="10" text-anchor="middle" fill="#2a4cc8" font-family="Liberation Sans, sans-serif">117</text>
<text x="622.0" y="498.90" font-size="10" text-anchor="middle" fill="#3a4f4b" font-family="Liberation Sans, sans-serif">280</text>
<text x="661.3" y="498.90" font-size="10" text-anchor="middle" fill="#f07a2a" font-family="Liberation Sans, sans-serif">341</text>
<text x="582.1" y="512.90" font-size="10" text-anchor="middle" fill="#2a4cc8" font-family="Liberation Sans, sans-serif">2.8</text>
<text x="622.0" y="512.90" font-size="10" text-anchor="middle" fill="#3a4f4b" font-family="Liberation Sans, sans-serif">2.9</text>
<text x="661.3" y="512.90" font-size="10" text-anchor="middle" fill="#f07a2a" font-family="Liberation Sans, sans-serif">2.8</text>
<text x="582.1" y="526.50" font-size="10" text-anchor="middle" fill="#2a4cc8" font-family="Liberation Sans, sans-serif">0.5</text>
<text x="622.0" y="526.50" font-size="10" text-anchor="middle" fill="#3a4f4b" font-family="Liberation Sans, sans-serif">1</text>
<text x="661.3" y="526.50" font-size="10" text-anchor="middle" fill="#f07a2a" font-family="Liberation Sans, sans-serif">0.6</text>
<text x="414.5" y="501" font-size="10.4" text-anchor="end" fill="#4d4d4d" font-family="Liberation Sans, sans-serif">n</text>
<text x="414.5" y="512.4" font-size="10.4" text-anchor="end" fill="#4d4d4d" font-family="Liberation Sans, sans-serif">median</text>
<text x="414.5" y="523.3" font-size="10.4" text-anchor="end" fill="#4d4d4d" font-family="Liberation Sans, sans-serif">mad</text>
<text x="6.8" y="590.9" font-size="11.8" fill="#111" font-family="Liberation Sans, sans-serif">e</text>
<text x="172.3" y="575.3" font-size="12" text-anchor="middle" fill="#111" font-family="Liberation Sans, sans-serif">Steady-state stiffness (ZT12, SSO)</text>
<rect x="40.3" y="610.7" width="127.50000000000001" height="85.09999999999991" fill="#f5f5f5"/>
<text x="104.05" y="602.7" font-size="10.4" text-anchor="middle" fill="#333" font-family="Liberation Sans, sans-serif">Baseline</text>
<line x1="40.3" y1="695.8" x2="167.8" y2="695.8" stroke="#000" stroke-width="1.55"/>
<line x1="64.2" y1="695.8" x2="64.2" y2="700.4" stroke="#000" stroke-width="3.0"/>
<text x="66.70" y="712.30" font-size="10.2" text-anchor="end" fill="#4d4d4d" transform="rotate(-20 66.70 712.30)" font-family="Liberation Sans, sans-serif">wt</text>
<line x1="104" y1="695.8" x2="104" y2="700.4" stroke="#000" stroke-width="3.0"/>
<text x="106.50" y="712.30" font-size="10.2" text-anchor="end" fill="#4d4d4d" transform="rotate(-20 106.50 712.30)" font-family="Liberation Sans, sans-serif">AgOAMB-</text>
<line x1="144" y1="695.8" x2="144" y2="700.4" stroke="#000" stroke-width="3.0"/>
<text x="146.50" y="712.30" font-size="10.2" text-anchor="end" fill="#4d4d4d" transform="rotate(-20 146.50 712.30)" font-family="Liberation Sans, sans-serif">AgOctβ2-</text>
<line x1="64.2" y1="674.0" x2="64.2" y2="675.6" stroke="#0a37be" stroke-width="1.6"/>
<rect x="50.2" y="668.6" width="28.0" height="5.40" fill="#fff" stroke="#0a37be" stroke-width="1.6"/>
<line x1="50.2" y1="671.85" x2="78.2" y2="671.85" stroke="#0a37be" stroke-width="3.0"/>
<line x1="104" y1="671.3" x2="104" y2="672.1" stroke="#1d3c3a" stroke-width="1.6"/>
<line x1="104" y1="677" x2="104" y2="677.8" stroke="#1d3c3a" stroke-width="1.6"/>
<rect x="90.0" y="672.1" width="28.0" height="4.90" fill="#1d3c3a" stroke="#1d3c3a" stroke-width="1.6"/>
<line x1="90.0" y1="674.5" x2="118.0" y2="674.5" stroke="#1d3c3a" stroke-width="3.0"/>
<line x1="144" y1="673.4" x2="144" y2="674.2" stroke="#ee6a00" stroke-width="1.6"/>
<line x1="144" y1="676.3" x2="144" y2="677.1" stroke="#ee6a00" stroke-width="1.6"/>
<rect x="130.0" y="674.2" width="28.0" height="2.10" fill="#ee6a00" stroke="#ee6a00" stroke-width="1.6"/>
<line x1="130.0" y1="675.3" x2="158.0" y2="675.3" stroke="#ee6a00" stroke-width="3.0"/>
<line x1="65.2" y1="639.4" x2="145" y2="639.4" stroke="#000" stroke-width="1.5"/>
<path d="M102.20,634.50L106.80,634.50" stroke="#666" stroke-width="0.8" fill="none"/>
<path d="M103.35,632.51L105.65,636.49M105.65,632.51L103.35,636.49" stroke="#222" stroke-width="1.2" fill="none"/>
<rect x="177.2" y="610.7" width="127.60000000000002" height="85.09999999999991" fill="#f5f5f5"/>
<text x="241.00" y="602.7" font-size="10.4" text-anchor="middle" fill="#333" font-family="Liberation Sans, sans-serif">1mM OA</text>
<line x1="177.2" y1="695.8" x2="304.8" y2="695.8" stroke="#000" stroke-width="1.55"/>
<line x1="201.1" y1="695.8" x2="201.1" y2="700.4" stroke="#000" stroke-width="3.0"/>
<text x="203.60" y="712.30" font-size="10.2" text-anchor="end" fill="#4d4d4d" transform="rotate(-20 203.60 712.30)" font-family="Liberation Sans, sans-serif">wt</text>
<line x1="241" y1="695.8" x2="241" y2="700.4" stroke="#000" stroke-width="3.0"/>
<text x="243.50" y="712.30" font-size="10.2" text-anchor="end" fill="#4d4d4d" transform="rotate(-20 243.50 712.30)" font-family="Liberation Sans, sans-serif">AgOAMB-</text>
<line x1="281" y1="695.8" x2="281" y2="700.4" stroke="#000" stroke-width="3.0"/>
<text x="283.50" y="712.30" font-size="10.2" text-anchor="end" fill="#4d4d4d" transform="rotate(-20 283.50 712.30)" font-family="Liberation Sans, sans-serif">AgOctβ2-</text>
<line x1="201.1" y1="619.3" x2="201.1" y2="627.2" stroke="#0a37be" stroke-width="1.6"/>
<line x1="201.1" y1="666" x2="201.1" y2="673.2" stroke="#0a37be" stroke-width="1.6"/>
<rect x="187.1" y="627.2" width="28.0" height="38.80" fill="#fff" stroke="#0a37be" stroke-width="1.6"/>
<line x1="187.1" y1="648.3" x2="215.1" y2="648.3" stroke="#0a37be" stroke-width="3.0"/>
<line x1="241" y1="664.4" x2="241" y2="667.1" stroke="#1d3c3a" stroke-width="1.6"/>
<line x1="241" y1="673.5" x2="241" y2="676.8" stroke="#1d3c3a" stroke-width="1.6"/>
<rect x="227.0" y="667.1" width="28.0" height="6.40" fill="#fff" stroke="#1d3c3a" stroke-width="1.6"/>
<line x1="227.0" y1="672" x2="255.0" y2="672" stroke="#1d3c3a" stroke-width="3.0"/>
<line x1="281" y1="672.7" x2="281" y2="675" stroke="#ee6a00" stroke-width="1.6"/>
<line x1="281" y1="678.2" x2="281" y2="680.6" stroke="#ee6a00" stroke-width="1.6"/>
<rect x="267.0" y="675" width="28.0" height="3.20" fill="#ee6a00" stroke="#ee6a00" stroke-width="1.6"/>
<line x1="267.0" y1="676.5" x2="295.0" y2="676.5" stroke="#ee6a00" stroke-width="3.0"/>
<line x1="206.1" y1="621.2" x2="281.9" y2="621.2" stroke="#000" stroke-width="1.5"/>
<path d="M236.20,617.00L240.80,617.00M241.20,617.00L245.80,617.00" stroke="#666" stroke-width="0.8" fill="none"/>
<path d="M237.35,615.01L239.65,618.99M239.65,615.01L237.35,618.99M242.35,615.01L244.65,618.99M244.65,615.01L242.35,618.99" stroke="#222" stroke-width="1.2" fill="none"/>
<line x1="40.3" y1="610.7" x2="40.3" y2="696.5799999999999" stroke="#000" stroke-width="1.6"/>
<line x1="35.5" y1="625.8000000000001" x2="40.3" y2="625.8000000000001" stroke="#000" stroke-width="3.0"/>
<text x="31.8" y="630.10" font-size="10" text-anchor="end" fill="#4d4d4d" font-family="Liberation Sans, sans-serif">600</text>
<line x1="35.5" y1="647.9000000000001" x2="40.3" y2="647.9000000000001" stroke="#000" stroke-width="3.0"/>
<text x="31.8" y="652.20" font-size="10" text-anchor="end" fill="#4d4d4d" font-family="Liberation Sans, sans-serif">400</text>
<line x1="35.5" y1="670.0" x2="40.3" y2="670.0" stroke="#000" stroke-width="3.0"/>
<text x="31.8" y="674.30" font-size="10" text-anchor="end" fill="#4d4d4d" font-family="Liberation Sans, sans-serif">200</text>
<line x1="35.5" y1="692.1" x2="40.3" y2="692.1" stroke="#000" stroke-width="3.0"/>
<text x="31.8" y="696.40" font-size="10" text-anchor="end" fill="#4d4d4d" font-family="Liberation Sans, sans-serif">0</text>
<text x="9" y="653.5" font-size="10.7" font-weight="bold" text-anchor="middle" fill="#000" transform="rotate(-90 9 653.5)" font-family="Liberation Sans, sans-serif">μN/m</text>
<rect x="42.6" y="767.1" width="126.80000000000001" height="37.89999999999998" fill="#f5f5f5"/>
<text x="66.2" y="776.50" font-size="10" text-anchor="middle" fill="#2a4cc8" font-family="Liberation Sans, sans-serif">8</text>
<text x="106" y="776.50" font-size="10" text-anchor="middle" fill="#3a4f4b" font-family="Liberation Sans, sans-serif">8</text>
<text x="145.5" y="776.50" font-size="10" text-anchor="middle" fill="#f07a2a" font-family="Liberation Sans, sans-serif">7</text>
<text x="66.2" y="790.10" font-size="10" text-anchor="middle" fill="#2a4cc8" font-family="Liberation Sans, sans-serif">180</text>
<text x="106" y="790.10" font-size="10" text-anchor="middle" fill="#3a4f4b" font-family="Liberation Sans, sans-serif">160</text>
<text x="145.5" y="790.10" font-size="10" text-anchor="middle" fill="#f07a2a" font-family="Liberation Sans, sans-serif">151</text>
<text x="66.2" y="804.10" font-size="10" text-anchor="middle" fill="#2a4cc8" font-family="Liberation Sans, sans-serif">37</text>
<text x="106" y="804.10" font-size="10" text-anchor="middle" fill="#3a4f4b" font-family="Liberation Sans, sans-serif">35</text>
<text x="145.5" y="804.10" font-size="10" text-anchor="middle" fill="#f07a2a" font-family="Liberation Sans, sans-serif">16</text>
<rect x="178.5" y="767.1" width="126.80000000000001" height="37.89999999999998" fill="#f5f5f5"/>
<text x="201.6" y="776.50" font-size="10" text-anchor="middle" fill="#2a4cc8" font-family="Liberation Sans, sans-serif">8</text>
<text x="241.5" y="776.50" font-size="10" text-anchor="middle" fill="#3a4f4b" font-family="Liberation Sans, sans-serif">8</text>
<text x="280.8" y="776.50" font-size="10" text-anchor="middle" fill="#f07a2a" font-family="Liberation Sans, sans-serif">7</text>
<text x="201.6" y="790.10" font-size="10" text-anchor="middle" fill="#2a4cc8" font-family="Liberation Sans, sans-serif">396</text>
<text x="241.5" y="790.10" font-size="10" text-anchor="middle" fill="#3a4f4b" font-family="Liberation Sans, sans-serif">178</text>
<text x="280.8" y="790.10" font-size="10" text-anchor="middle" fill="#f07a2a" font-family="Liberation Sans, sans-serif">137</text>
<text x="201.6" y="804.10" font-size="10" text-anchor="middle" fill="#2a4cc8" font-family="Liberation Sans, sans-serif">280</text>
<text x="241.5" y="804.10" font-size="10" text-anchor="middle" fill="#3a4f4b" font-family="Liberation Sans, sans-serif">60</text>
<text x="280.8" y="804.10" font-size="10" text-anchor="middle" fill="#f07a2a" font-family="Liberation Sans, sans-serif">37</text>
<text x="34" y="778.8" font-size="10.4" text-anchor="end" fill="#4d4d4d" font-family="Liberation Sans, sans-serif">n</text>
<text x="34" y="789.9" font-size="10.4" text-anchor="end" fill="#4d4d4d" font-family="Liberation Sans, sans-serif">median</text>
<text x="34" y="801" font-size="10.4" text-anchor="end" fill="#4d4d4d" font-family="Liberation Sans, sans-serif">mad</text>
</svg>
</body></html>
